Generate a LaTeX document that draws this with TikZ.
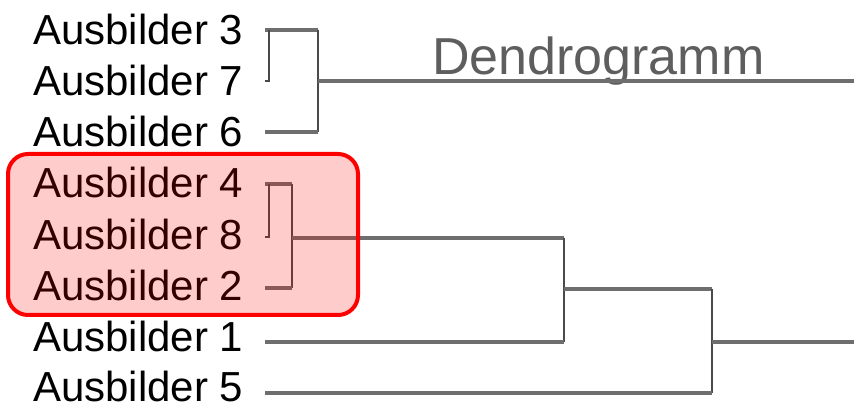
\documentclass[tikz,border=0pt]{standalone}
\usepackage{fontspec}
\setmainfont{Liberation Sans}
\definecolor{hline}{HTML}{6E6E6E}
\definecolor{vline}{HTML}{4A4A4A}
\definecolor{titlegray}{HTML}{5E5E5E}
\begin{document}
\begin{tikzpicture}[x=1pt,y=-1pt,
  lbl/.style={anchor=base west, inner sep=0pt, text depth=0pt, font=\fontsize{42}{50}\selectfont},
  hl/.style={draw=hline, line width=3.5pt},
  vl/.style={draw=vline, line width=2pt},
  hlbox/.style={draw=red, line width=4pt, fill=red, fill opacity=0.2, rounded corners=20pt, inner sep=0pt}]
\useasboundingbox (0,0) rectangle (854,403);
% labels
\node[lbl] (t3) at (33,45) {Ausbilder 3};
\node[lbl] (t7) at (33,96) {Ausbilder 7};
\node[lbl] (t6) at (33,147) {Ausbilder 6};
\node[lbl] (t4) at (33,198) {Ausbilder 4};
\node[lbl] (t8) at (33,250) {Ausbilder 8};
\node[lbl] (t2) at (33,301) {Ausbilder 2};
\node[lbl] (t1) at (33,352) {Ausbilder 1};
\node[lbl] (t5) at (33,401) {Ausbilder 5};
\node[anchor=base west, inner sep=0pt, text=titlegray, font=\fontsize{52}{60}\selectfont] (title) at (432,75) {Dendrogramm};
% leaf ends
\coordinate (a3) at (265,30);
\coordinate (a7) at (265,81);
\coordinate (a6) at (265,132);
\coordinate (a4) at (265,184);
\coordinate (a8) at (265,237);
\coordinate (a2) at (265,288);
\coordinate (a1) at (265,342);
\coordinate (a5) at (265,393);
% merge points
\coordinate (j37t) at (269,30);
\coordinate (j37b) at (269,81);
\coordinate (jAt) at (318,30);
\coordinate (jAb) at (318,132);
\coordinate (jAm) at (318,81);
\coordinate (rA) at (854,81);
\coordinate (j48t) at (269,184);
\coordinate (j48b) at (269,237);
\coordinate (jBt) at (292,184);
\coordinate (jBb) at (292,288);
\coordinate (jBm) at (292,238);
\coordinate (jCt) at (564,238);
\coordinate (jCb) at (564,342);
\coordinate (jCm) at (564,289);
\coordinate (jDt) at (712,289);
\coordinate (jDb) at (712,393);
\coordinate (jDm) at (712,342);
\coordinate (rD) at (854,342);
% cluster 1
\draw[hl] (a3) -- (jAt);
\draw[vl] (j37t) -- (j37b) -- (a7);
\draw[vl] (jAt) -- (jAb);
\draw[hl] (jAb) -- (a6);
\draw[hl] (jAm) -- (rA);
% cluster 2
\draw[hl] (a4) -- (jBt);
\draw[vl] (j48t) -- (j48b) -- (a8);
\draw[vl] (jBt) -- (jBb);
\draw[hl] (jBb) -- (a2);
\draw[hl] (jBm) -- (jCt);
\draw[vl] (jCt) -- (jCb);
\draw[hl] (jCb) -- (a1);
\draw[hl] (jCm) -- (jDt);
\draw[vl] (jDt) -- (jDb);
\draw[hl] (jDb) -- (a5);
\draw[hl] (jDm) -- (rD);
% highlight box
\node[hlbox, minimum width=350pt, minimum height=161pt] (box) at (183,234.5) {};
\end{tikzpicture}
\end{document}
